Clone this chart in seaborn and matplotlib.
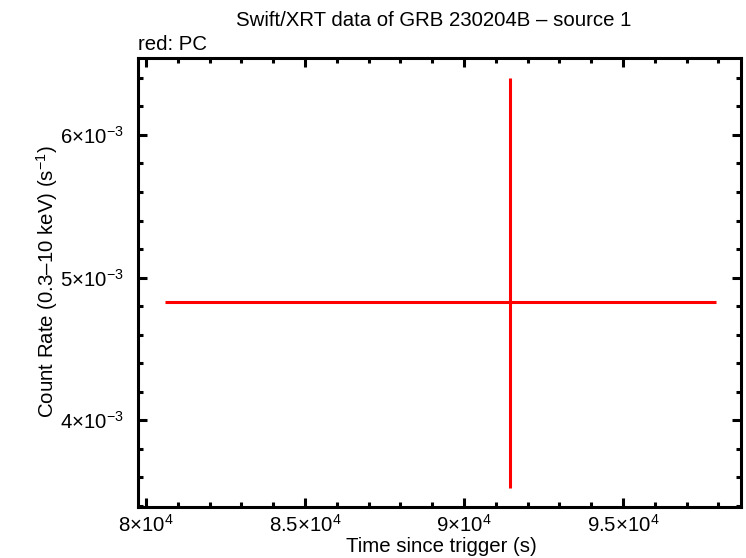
import numpy as np
import pandas as pd
import seaborn as sns
import matplotlib
matplotlib.use("Agg")
import matplotlib.pyplot as plt
from matplotlib import font_manager
from matplotlib.ticker import FuncFormatter, MultipleLocator

# single PC-mode bin
time_s = [91450.0]
time_err_neg = [10850.0]
time_err_pos = [6460.0]
rate = [4.832e-3]
rate_err_neg = [1.309e-3]
rate_err_pos = [1.570e-3]

title = "Swift/XRT data of GRB 230204B \u2013 source 1"
subtitle = "red: PC"
xlabel = "Time since trigger (s)"
ylabel = "Count Rate (0.3\u201310 keV) (s$^{-1}$)"

df = pd.DataFrame({"t": time_s, "rate": rate})

sns.set_style("ticks")
names = {f.name for f in font_manager.fontManager.ttflist}
FONT = "Liberation Sans Narrow" if "Liberation Sans Narrow" in names else "Liberation Sans"
plt.rcParams["font.family"] = [FONT, "DejaVu Sans"]
plt.rcParams["mathtext.fontset"] = "custom"
plt.rcParams["mathtext.rm"] = FONT
plt.rcParams["mathtext.it"] = FONT
plt.rcParams["mathtext.bf"] = FONT
plt.rcParams["mathtext.default"] = "rm"
for key in ("text.color", "axes.labelcolor", "xtick.color", "ytick.color", "axes.edgecolor"):
    plt.rcParams[key] = "black"

FS = 14.7

fig = plt.figure(figsize=(7.46, 5.58), dpi=100)
ax = fig.add_axes([138 / 746, 1 - 507 / 558, 603 / 746, 449 / 558])

ax.errorbar(
    df["t"], df["rate"],
    xerr=[time_err_neg, time_err_pos],
    yerr=[rate_err_neg, rate_err_pos],
    fmt="none", ecolor="#ff0000", elinewidth=2.2, capsize=0,
)

ax.set_xlim(79750, 98710)
ax.set_ylim(3.392e-3, 6.539e-3)


def sci_fmt(v, pos):
    if v == 0:
        return "0"
    exp = int(np.floor(np.log10(abs(v)) + 1e-9))
    mant = v / 10 ** exp
    m = f"{mant:.1f}".rstrip("0").rstrip(".")
    return r"$%s{\times}10^{%d}$" % (m, exp)


ax.xaxis.set_major_locator(MultipleLocator(5000))
ax.xaxis.set_minor_locator(MultipleLocator(1000))
ax.yaxis.set_major_locator(MultipleLocator(1e-3))
ax.yaxis.set_minor_locator(MultipleLocator(2e-4))
ax.xaxis.set_major_formatter(FuncFormatter(sci_fmt))
ax.yaxis.set_major_formatter(FuncFormatter(sci_fmt))

ax.tick_params(which="both", direction="in", top=True, right=True, width=2.2, colors="black")
ax.tick_params(which="major", length=6.5)
ax.tick_params(which="minor", length=3.6)
ax.tick_params(axis="x", which="major", pad=5, labelsize=FS)
ax.tick_params(axis="y", which="major", pad=10, labelsize=FS)
for sp in ax.spines.values():
    sp.set_visible(True)
    sp.set_linewidth(2.2)
    sp.set_color("black")

ax.set_xlabel(xlabel, fontsize=FS, va="center", color="black")
ax.set_ylabel(ylabel, fontsize=FS, va="center", color="black")
ax.xaxis.set_label_coords((441 - 138) / 603, (507 - 546) / 449)
ax.yaxis.set_label_coords((47.5 - 138) / 603, (507 - 282) / 449)

fig.text(434 / 746, 1 - 20 / 558, title, ha="center", va="center", fontsize=FS, color="black")
fig.text(138 / 746, 1 - 49.5 / 558, subtitle, ha="left", va="baseline", fontsize=FS, color="black")

fig.savefig("out.png", dpi=100)
